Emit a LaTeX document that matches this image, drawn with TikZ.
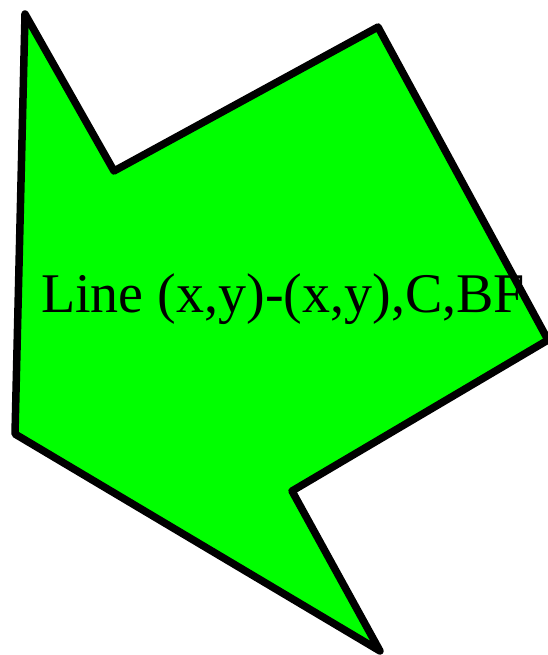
\documentclass[tikz,border=0pt]{standalone}
\usepackage{fontspec}
\setmainfont{Liberation Serif}
\usepackage{xcolor}
\definecolor{arrowgreen}{RGB}{0,255,0}
\tikzset{
  outline/.style={line width=7.5pt, line join=round},
  caption/.style={font=\fontsize{56}{60}\selectfont, inner sep=0pt, anchor=base west}
}

\begin{document}
\begin{tikzpicture}[x=1pt, y=-1pt]
  \useasboundingbox (0,0) rectangle (548,655);
  % arrow shape
  \fill[arrowgreen] (25,14) -- (114,171) -- (378,27) -- (548,340) -- (292,491) -- (380,651) -- (15,434) -- cycle;
  \node[caption] (label) at (41,312) {Line (x,y)-(x,y),C,BF};
  \draw[outline] (25,14) -- (114,171) -- (378,27) -- (548,340) -- (292,491) -- (380,651) -- (15,434) -- cycle;
\end{tikzpicture}
\end{document}
